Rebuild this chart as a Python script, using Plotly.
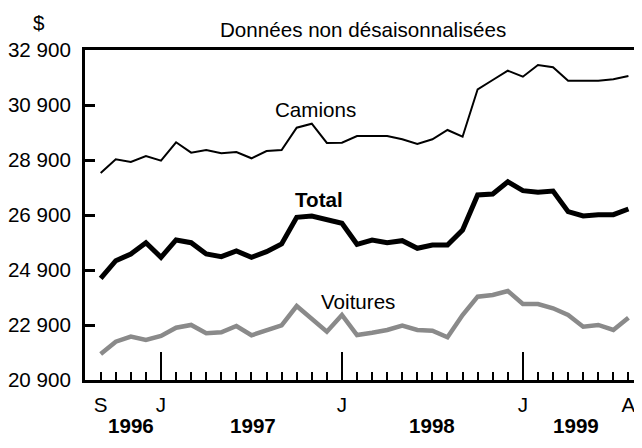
import plotly.graph_objects as go

# ---- data ----
months = ["1996-09", "1996-10", "1996-11", "1996-12",
          "1997-01", "1997-02", "1997-03", "1997-04", "1997-05", "1997-06",
          "1997-07", "1997-08", "1997-09", "1997-10", "1997-11", "1997-12",
          "1998-01", "1998-02", "1998-03", "1998-04", "1998-05", "1998-06",
          "1998-07", "1998-08", "1998-09", "1998-10", "1998-11", "1998-12",
          "1999-01", "1999-02", "1999-03", "1999-04", "1999-05", "1999-06",
          "1999-07", "1999-08"]
month_tick_text = ["S", "", "", "", "J", "", "", "", "", "", "", "", "", "", "", "",
                   "J", "", "", "", "", "", "", "", "", "", "", "",
                   "J", "", "", "", "", "", "", "A"]
year_ticks = ["1997-01", "1998-01", "1999-01"]
year_labels = ["1996", "1997", "1998", "1999"]

camions = [28427, 28926, 28828, 29046, 28875, 29544, 29166, 29264, 29144, 29191,
           28962, 29228, 29264, 30075, 30220, 29520, 29530, 29773, 29773, 29773,
           29653, 29482, 29653, 29991, 29748, 31471, 31809, 32147, 31929, 32355,
           32271, 31784, 31784, 31784, 31834, 31955]
total = [24599, 25239, 25483, 25893, 25362, 25992, 25893, 25483, 25384, 25592,
         25362, 25566, 25846, 26817, 26864, 26719, 26598, 25835, 25991, 25893,
         25966, 25690, 25810, 25810, 26355, 27628, 27664, 28111, 27784, 27726,
         27773, 27020, 26864, 26912, 26912, 27119]
voitures = [21846, 22294, 22476, 22355, 22501, 22803, 22901, 22599, 22635, 22864,
            22526, 22719, 22890, 23591, 23144, 22657, 23264, 22537, 22620, 22719,
            22875, 22719, 22694, 22454, 23264, 23930, 23991, 24137, 23664, 23664,
            23508, 23264, 22839, 22901, 22719, 23167]

y_ticks = [20900, 22900, 24900, 26900, 28900, 30900, 32900]
y_tick_text = ["20 900", "22 900", "24 900", "26 900", "28 900", "30 900", "32 900"]

# ---- layout helpers ----
FONT = "Liberation Sans, Arial, sans-serif"
FS = 20.6
xpos = {m: i for i, m in enumerate(months)}
xs = [xpos[m] for m in months]
x_range = [-1.04, 35.9]
y_range = [20900, 32900]

fig = go.Figure()
fig.add_trace(go.Scatter(x=xs, y=voitures, mode="lines",
                         line=dict(color="#8a8a8a", width=4.5), xaxis="x", yaxis="y"))
fig.add_trace(go.Scatter(x=xs, y=total, mode="lines",
                         line=dict(color="black", width=5), xaxis="x", yaxis="y"))
fig.add_trace(go.Scatter(x=xs, y=camions, mode="lines",
                         line=dict(color="black", width=2), xaxis="x2", yaxis="y2"))

# the page body has an 8px margin, so the figure is 8px smaller on each axis
fig.update_layout(
    width=634, height=440,
    margin=dict(l=77, r=0, t=42, b=68, autoexpand=False),
    paper_bgcolor="white", plot_bgcolor="white",
    showlegend=False,
    font=dict(family=FONT, size=FS, color="black"),
    xaxis=dict(range=x_range, showgrid=False, zeroline=False, automargin=False,
               showline=True, linewidth=3, linecolor="black", mirror=True,
               ticks="inside", ticklen=8, tickwidth=2, tickcolor="black",
               tickmode="array", tickvals=xs, ticktext=month_tick_text,
               tickfont=dict(size=FS), ticklabelstandoff=4),
    xaxis2=dict(range=x_range, overlaying="x", anchor="y", side="bottom",
                showgrid=False, zeroline=False, showline=False, automargin=False,
                ticks="inside", ticklen=28, tickwidth=2, tickcolor="black",
                tickmode="array", tickvals=[xpos[m] for m in year_ticks],
                showticklabels=False),
    yaxis=dict(range=y_range, showgrid=False, zeroline=False, automargin=False,
               showline=True, linewidth=3, linecolor="black",
               ticks="inside", ticklen=10, tickwidth=3, tickcolor="black",
               tickmode="array", tickvals=y_ticks, ticktext=y_tick_text,
               tickfont=dict(size=FS), ticklabelstandoff=7),
    yaxis2=dict(range=y_range, overlaying="y", anchor="x", side="right",
                showgrid=False, zeroline=False, showline=False, automargin=False,
                ticks="inside", ticklen=8, tickwidth=3, tickcolor="black",
                tickmode="array", tickvals=y_ticks, showticklabels=False),
)

year_x = [2.0, 10.1, 22.0, 31.5]
for lbl, xv in zip(year_labels, year_x):
    fig.add_annotation(x=xv, xref="x", y=0, yref="paper", yshift=-45,
                       text="<b>%s</b>" % lbl, showarrow=False,
                       font=dict(size=FS, family=FONT), yanchor="middle")

labels = [("Camions", 0.4147, 0.8212, False),
          ("Total", 0.4201, 0.5455, True),
          ("Voitures", 0.4901, 0.2379, False)]
for txt, px, py, bold in labels:
    fig.add_annotation(x=px, y=py, xref="paper", yref="paper",
                       text=("<b>%s</b>" % txt) if bold else txt, showarrow=False,
                       font=dict(size=FS, family=FONT), xanchor="center", yanchor="middle")

fig.add_annotation(x=0.4991, y=1.0636, xref="paper", yref="paper",
                   text="Données non désaisonnalisées", showarrow=False,
                   font=dict(size=FS, family=FONT), xanchor="center", yanchor="middle")
fig.add_annotation(x=-0.0826, y=1.0848, xref="paper", yref="paper",
                   text="$", showarrow=False,
                   font=dict(size=FS, family=FONT), xanchor="center", yanchor="middle")

fig.write_html("out.html")
